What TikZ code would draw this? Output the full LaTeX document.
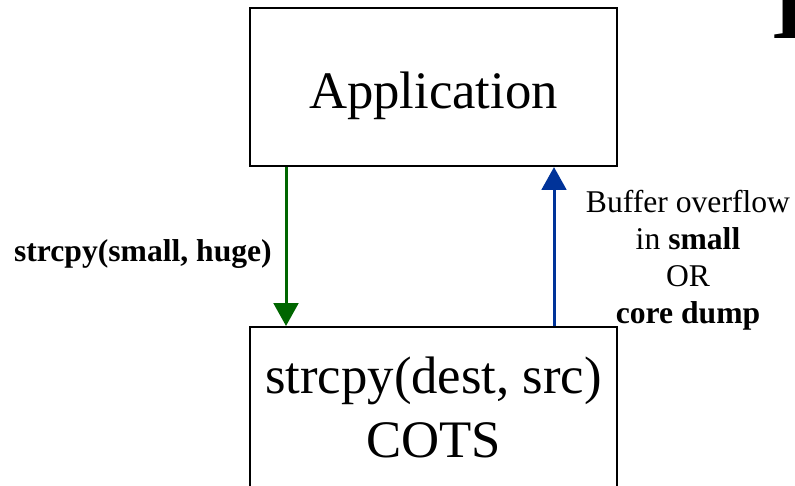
\documentclass[tikz,border=0pt]{standalone}
\usepackage{fontspec}
\setmainfont{Liberation Serif}
\usetikzlibrary{arrows.meta, positioning}

\definecolor{verde}{RGB}{0,102,0}
\definecolor{azul}{RGB}{0,51,153}

\tikzset{
  caja/.style={draw, line width=0.6pt, minimum width=3.67cm, inner sep=0pt,
    align=center, font=\fontsize{15}{18.2}\selectfont},
  flecha/.style={line width=0.85pt, -{Triangle[length=6.5pt, width=7pt]}},
  etiqueta/.style={align=center, font=\fontsize{9}{10.5}\selectfont}
}

\begin{document}
\begin{tikzpicture}
  \useasboundingbox (0,0) rectangle (7.95,-4.85);
  \clip (0,0) rectangle (7.95,-4.85);

  % Caja de la aplicacion
  \node[caja, minimum height=1.58cm, text height=12pt, text depth=0pt] (app) at (4.335,-0.87) {Application};

  % Caja de la biblioteca COTS
  \node[caja, minimum height=1.6cm, anchor=north] (lib) at (4.335,-3.26)
    {strcpy(dest, src)\\COTS};

  % Posiciones de las flechas
  \coordinate (g) at (2.86,0);
  \coordinate (b) at (5.54,0);

  % Llamada (verde)
  \draw[flecha, verde] (app.south -| g) -- (lib.north -| g)
    node[midway, left=0.01cm, yshift=-0.07cm, etiqueta, text=black] (llamada) {\textbf{strcpy(small, huge)}};

  % Respuesta (azul)
  \draw[flecha, azul] (lib.north -| b) -- (app.south -| b);
  \node[etiqueta] (resultado) at (6.88,-2.6)
    {Buffer overflow\\in \textbf{small}\\OR\\\textbf{core dump}};

  % Letra del titulo (cortada)
  \node[anchor=base west, inner sep=0pt, font=\fontsize{28}{30}\selectfont\bfseries]
    (titulo) at (7.71,-0.38) {I};

\end{tikzpicture}
\end{document}
